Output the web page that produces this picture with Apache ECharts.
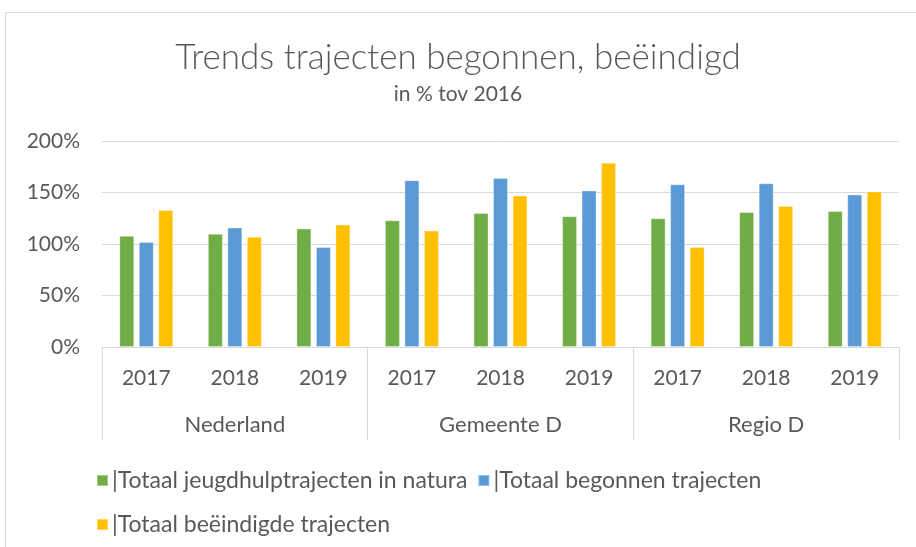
<!DOCTYPE html>
<html>
<head>
<meta charset="utf-8">
<script src="https://cdn.jsdelivr.net/npm/echarts@6/dist/echarts.min.js"></script>
<style>
  html, body { margin: 0; padding: 0; background: #fff; }
  #chart { width: 916px; height: 547px; }
</style>
</head>
<body>
<div id="chart"></div>
<script>
const years = ['2017', '2018', '2019', '2017', '2018', '2019', '2017', '2018', '2019'];
const regions = ['Nederland', 'Gemeente D', 'Regio D'];
const seriesNames = [
    '|Totaal jeugdhulptrajecten in natura',
    '|Totaal begonnen trajecten',
    '|Totaal beëindigde trajecten'
];
const natura = [108, 110, 115, 123, 130, 127, 125, 131, 132];
const begonnen = [102, 116, 97, 162, 164, 152, 158, 159, 148];
const beeindigd = [133, 107, 119, 113, 147, 179, 97, 137, 151];
const yTicks = [0, 50, 100, 150, 200];

const colors = ['#70AD47', '#5B9BD5', '#FFC000'];
const textColor = '#595959';
const lineColor = '#D9D9D9';
const font = 'Lato';

const chart = echarts.init(document.getElementById('chart'));

const option = {
    animation: false,
    textStyle: { fontFamily: font, color: textColor },
    title: {
        text: 'Trends trajecten begonnen, beëindigd',
        subtext: 'in % tov 2016',
        left: 'center',
        top: 35,
        itemGap: 9,
        textStyle: { fontFamily: font, fontSize: 35, fontWeight: 300, color: textColor },
        subtextStyle: { fontFamily: font, fontSize: 21, color: textColor }
    },
    graphic: [{
        type: 'rect',
        shape: { x: 5.5, y: 12.5, width: 930, height: 560 },
        style: { fill: 'none', stroke: lineColor, lineWidth: 1 },
        silent: true
    }],
    legend: [
        {
            data: seriesNames.slice(0, 2),
            left: 91, top: 464,
            icon: 'rect', itemWidth: 11, itemHeight: 11, itemGap: 10,
            textStyle: { fontFamily: font, fontSize: 23, color: textColor, padding: [0, 0, 0, -1] }
        },
        {
            data: seriesNames.slice(2),
            left: 91, top: 508,
            icon: 'rect', itemWidth: 11, itemHeight: 11,
            textStyle: { fontFamily: font, fontSize: 23, color: textColor, padding: [0, 0, 0, -1] }
        }
    ],
    grid: { left: 102, right: 17, top: 141, bottom: 200 },
    xAxis: [
        {
            type: 'category',
            data: years,
            axisLine: { lineStyle: { color: lineColor, width: 1 } },
            axisTick: { show: false },
            axisLabel: { margin: 21, fontSize: 21, color: textColor, fontFamily: font }
        },
        {
            type: 'category',
            data: regions,
            position: 'bottom',
            axisLine: { show: false },
            axisTick: { show: true, length: 93, interval: 0, lineStyle: { color: lineColor, width: 1 } },
            axisLabel: { margin: 67, fontSize: 22, color: textColor, fontFamily: font }
        }
    ],
    yAxis: {
        type: 'value',
        min: yTicks[0],
        max: yTicks[yTicks.length - 1],
        interval: 50,
        axisLine: { show: false },
        axisTick: { show: false },
        splitLine: { lineStyle: { color: lineColor, width: 1 } },
        axisLabel: { formatter: '{value}%', margin: 22, fontSize: 21, color: textColor, fontFamily: font }
    },
    series: [natura, begonnen, beeindigd].map((vals, i) => ({
        name: seriesNames[i],
        type: 'bar',
        xAxisIndex: 0,
        data: vals,
        barWidth: 15,
        barGap: '30%',
        itemStyle: { color: colors[i], borderColor: 'rgba(255,255,255,0.35)', borderWidth: 1 }
    }))
};

chart.setOption(option);
window.addEventListener('resize', () => chart.resize());
</script>
</body>
</html>
